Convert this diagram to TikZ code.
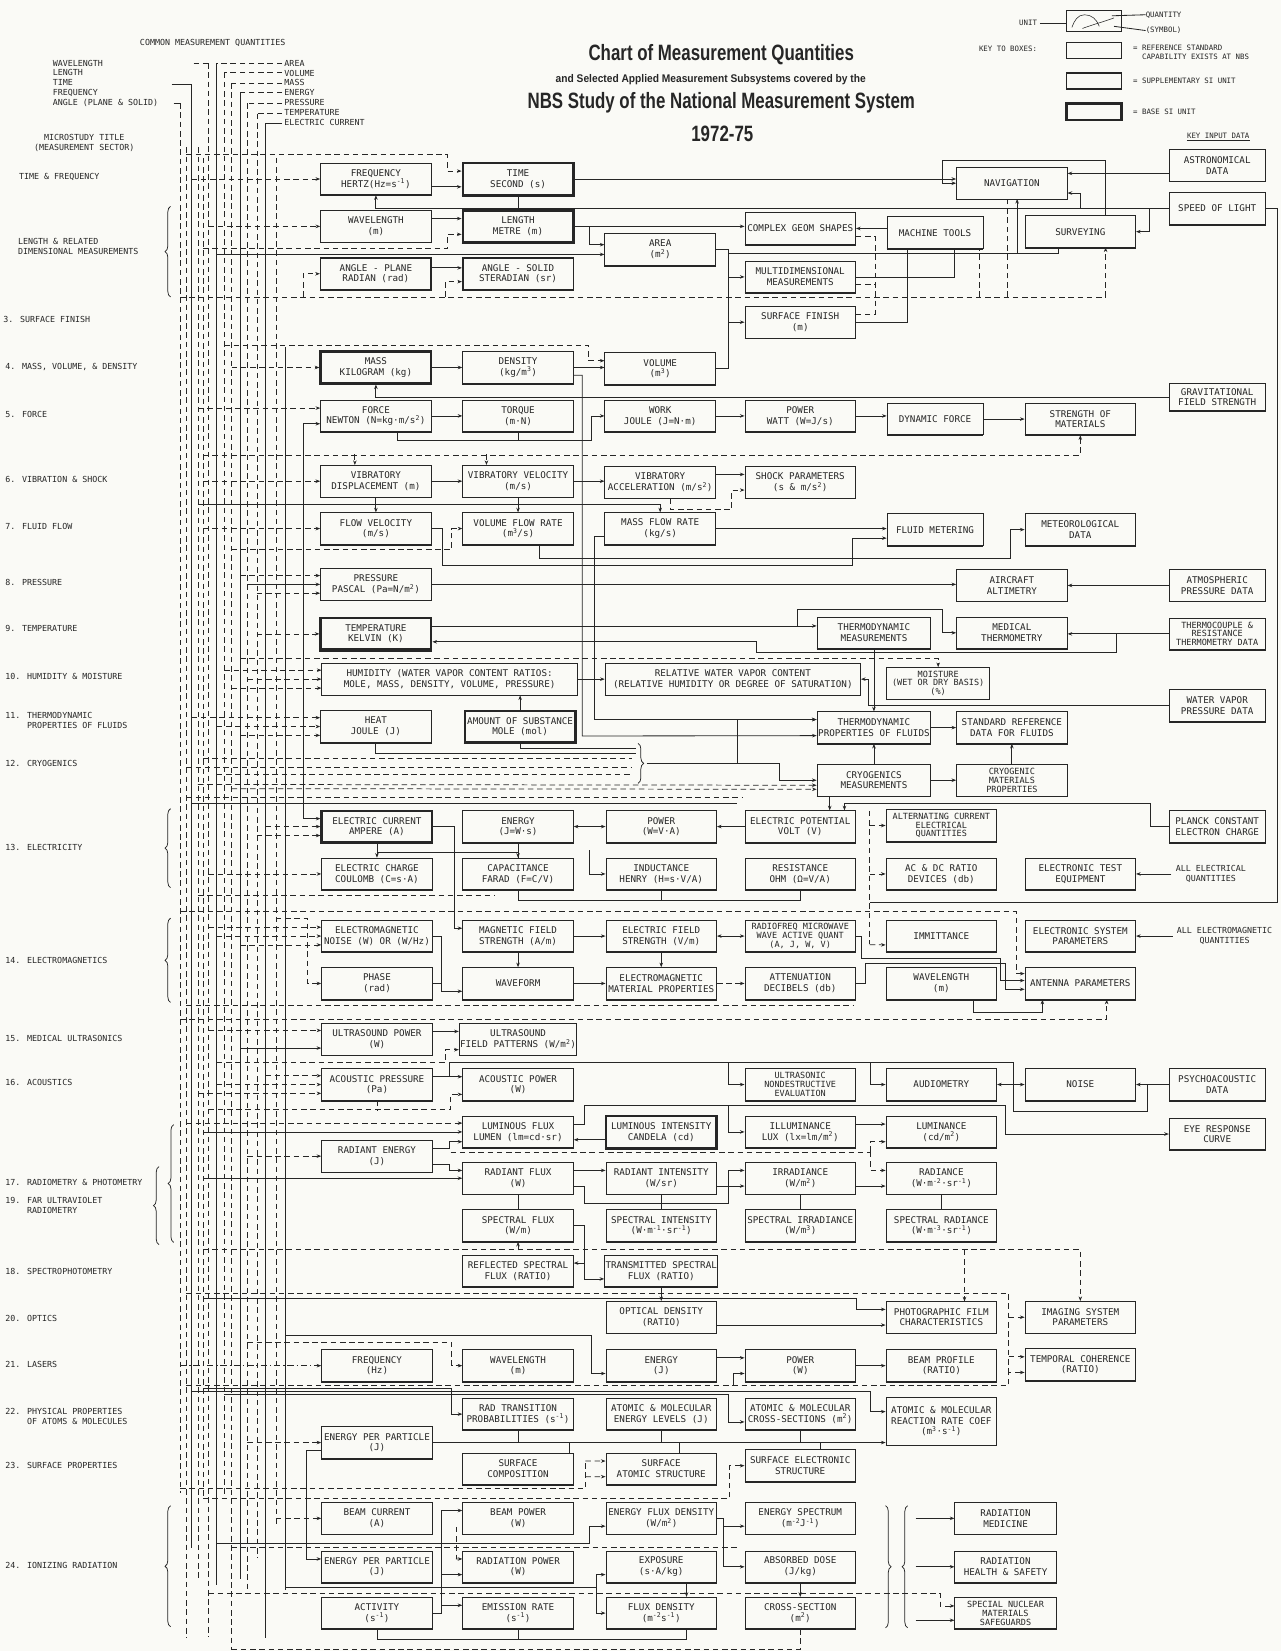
\documentclass[tikz,border=0pt]{standalone}
\usepackage{fontspec}
\usepackage{graphicx}
\usepackage{xcolor}
\definecolor{paper}{HTML}{FAFAF6}
\definecolor{ink}{HTML}{262626}
\newfontfamily\chartfont{DejaVu Sans Mono}
\newfontfamily\headfont{Liberation Sans}
\usepackage{tikz}
\usetikzlibrary{positioning,calc,arrows.meta,decorations.pathreplacing}

\begin{document}
\begin{tikzpicture}[
  x=0.04cm, y=-0.04cm,
  qty/.style={rectangle,draw=ink,fill=paper,line width=0.9pt,
    minimum width=4.2cm,minimum height=1.2cm,inner sep=1pt,
    align=center,text=ink,font=\chartfont\fontsize{10}{11.5}\selectfont},
  sibase/.style={qty,line width=2.6pt},
  supp/.style={qty,line width=1.7pt},
  keydata/.style={qty,minimum width=3.64cm},
  wide/.style={qty,minimum width=9.7cm},
  three/.style={font=\chartfont\fontsize{9.2}{9.6}\selectfont},
  sector/.style={anchor=west,align=left,inner sep=0pt,text=ink,
    font=\chartfont\fontsize{9}{10.6}\selectfont},
  note/.style={align=center,inner sep=0pt,text=ink,
    font=\chartfont\fontsize{9}{10.6}\selectfont},
  keytext/.style={anchor=west,align=left,inner sep=0pt,text=ink,
    font=\chartfont\fontsize{8}{9.4}\selectfont},
  headline/.style={text=ink,inner sep=0pt,
    font=\headfont\bfseries\fontsize{24}{26}\selectfont},
  ln/.style={draw=ink,line width=0.9pt},
  dsh/.style={draw=ink,line width=0.8pt,dash pattern=on 6pt off 4pt},
  arr/.style={ln,-{Stealth[length=5pt,width=3.8pt]}},
  dsarr/.style={dsh,-{Stealth[length=5pt,width=3.8pt]}},
  dbl/.style={ln,{Stealth[length=5pt,width=3.8pt]}-{Stealth[length=5pt,width=3.8pt]}},
  brc/.style={draw=ink,line width=0.8pt,decorate,decoration={brace,amplitude=6pt}},
  shd/.style={draw=ink,line width=1.8pt}
]
\fill[paper] (0,0) rectangle (1217,1568);
\useasboundingbox (0,0) rectangle (1217,1568);

% bus positions
\coordinate (bA) at (171,0);
\coordinate (bB) at (177,0);
\coordinate (bC) at (182,0);
\coordinate (bD) at (188,0);
\coordinate (bE) at (193,0);
\coordinate (bF) at (198,0);
\coordinate (bG) at (206,0);
\coordinate (bH) at (213,0);
\coordinate (bI) at (220,0);
\coordinate (bJ) at (228,0);
\coordinate (bK) at (235,0);
\coordinate (bL) at (244,0);
\coordinate (bM) at (252,0);
\coordinate (bN) at (262,0);
\coordinate (bO) at (271,0);
\coordinate (bP) at (288,0);
\coordinate (avx) at (692,0);
\coordinate (kx) at (958,0);

% heading and key
\node[note] (cmq) at (202,41) {COMMON MEASUREMENT QUANTITIES};
\node[sector] (qleft) at (50,79) {WAVELENGTH\\LENGTH\\TIME\\FREQUENCY\\ANGLE (PLANE \& SOLID)};
\node[sector] (qright) at (270,88) {AREA\\VOLUME\\MASS\\ENERGY\\PRESSURE\\TEMPERATURE\\ELECTRIC CURRENT};
\node[note] (mstitle) at (80,136) {MICROSTUDY TITLE\\(MEASUREMENT SECTOR)};

\node[headline] (title) at (685,52) {\scalebox{0.76}[1]{Chart of Measurement Quantities}};
\node[headline,font=\headfont\bfseries\fontsize{12}{14}\selectfont] (subtitle) at (675,76)
  {\scalebox{0.92}[1]{and Selected Applied Measurement Subsystems covered by the}};
\node[headline] (study) at (685,98) {\scalebox{0.76}[1]{NBS Study of the National Measurement System}};
\node[headline] (years) at (686,127) {\scalebox{0.76}[1]{1972-75}};

\node[draw=ink,line width=0.9pt,minimum width=2.08cm,minimum height=0.8cm] (kunit) at (1039,20) {};
\draw[ln,line width=0.6pt] (1018,26) to[out=70,in=180] (1030,14) to[out=0,in=110] (1044,25);
\draw[ln,line width=0.6pt] (1028,27) to[out=20,in=200] (1058,17);
\node[keytext,anchor=east] (kunitlbl) at (985,22) {UNIT};
\draw[ln] ([xshift=3pt]kunitlbl.east) -- (kunit.west |- kunitlbl.east);
\node[keytext] (kqty) at (1088,14) {QUANTITY};
\draw[ln] (1056,15) -- (kqty.west);
\node[keytext] (ksym) at (1088,29) {(SYMBOL)};
\draw[ln] (1058,25) -- (ksym.west);
\node[keytext,anchor=east] (kkey) at (985,46) {KEY TO BOXES:};
\node[draw=ink,line width=0.9pt,minimum width=2.08cm,minimum height=0.62cm] (kref) at (1039,48) {};
\node[draw=ink,line width=1.7pt,minimum width=2.08cm,minimum height=0.62cm] (ksup) at (1039,77) {};
\node[draw=ink,line width=2.6pt,minimum width=2.08cm,minimum height=0.62cm] (kbase) at (1039,106) {};
\node[keytext] (kreft) at (1076,50) {= REFERENCE STANDARD\\\phantom{= }CAPABILITY EXISTS AT NBS};
\node[keytext] (ksupt) at (1076,77) {= SUPPLEMENTARY SI UNIT};
\node[keytext] (kbaset) at (1076,106) {= BASE SI UNIT};
\node[note,font=\chartfont\fontsize{8}{9.4}\selectfont] (kinput) at (1157,129) {KEY INPUT DATA};
\draw[ln] ([yshift=-2pt]kinput.south west) -- ([yshift=-2pt]kinput.south east);

% sector labels
\node[sector] (s1) at (18,168) {TIME \& FREQUENCY};
\node[sector] (s2) at (17,234) {LENGTH \& RELATED\\DIMENSIONAL MEASUREMENTS};
\node[sector] (s3) at (3,303) {3. SURFACE FINISH};
\node[sector] (s4) at (5,349) {4. MASS, VOLUME, \& DENSITY};
\node[sector] (s5) at (5,394) {5. FORCE};
\node[sector] (s6) at (5,455) {6. VIBRATION \& SHOCK};
\node[sector] (s7) at (5,500) {7. FLUID FLOW};
\node[sector] (s8) at (5,553) {8. PRESSURE};
\node[sector] (s9) at (5,597) {9. TEMPERATURE};
\node[sector] (s10) at (5,642) {10. HUMIDITY \& MOISTURE};
\node[sector] (s11) at (5,684) {11. THERMODYNAMIC\\\phantom{11. }PROPERTIES OF FLUIDS};
\node[sector] (s12) at (5,725) {12. CRYOGENICS};
\node[sector] (s13) at (5,805) {13. ELECTRICITY};
\node[sector] (s14) at (5,912) {14. ELECTROMAGNETICS};
\node[sector] (s15) at (5,986) {15. MEDICAL ULTRASONICS};
\node[sector] (s16) at (5,1028) {16. ACOUSTICS};
\node[sector] (s17) at (5,1123) {17. RADIOMETRY \& PHOTOMETRY};
\node[sector] (s19) at (5,1145) {19. FAR ULTRAVIOLET\\\phantom{19. }RADIOMETRY};
\node[sector] (s18) at (5,1208) {18. SPECTROPHOTOMETRY};
\node[sector] (s20) at (5,1252) {20. OPTICS};
\node[sector] (s21) at (5,1296) {21. LASERS};
\node[sector] (s22) at (5,1345) {22. PHYSICAL PROPERTIES\\\phantom{22. }OF ATOMS \& MOLECULES};
\node[sector] (s23) at (5,1392) {23. SURFACE PROPERTIES};
\node[sector] (s24) at (5,1487) {24. IONIZING RADIATION};

\draw[brc] (162,282) -- (162,196);
\draw[brc] (162,843) -- (162,768);
\draw[brc] (162,952) -- (162,872);
\draw[brc] (165,1180) -- (165,1068);
\draw[brc] (151,1182) -- (151,1108);
\draw[brc] (162,1545) -- (162,1430);

% common quantity buses
\draw[ln] (163,80) -- (182,80);
\draw[dsh] (184,60) -- (198,60);
\draw[ln] (165,98) -- (171,98);
\draw[dsh] (268,60) -- (206,60);
\draw[dsh] (268,69) -- (213,69);
\draw[dsh] (268,79) -- (220,79);
\draw[dsh] (268,88) -- (228,88);
\draw[dsh] (268,98) -- (235,98);
\draw[dsh] (268,108) -- (244,108);
\draw[ln] (268,117) -- (252,117);
\foreach \bx/\by/\bz in {171/98/1418, 177/140/1555, 188/140/1500, 193/150/1424,
    198/60/1555, 213/69/1420, 220/79/1567, 235/98/1513, 244/108/1480, 262/150/1450}
  \draw[dsh] (\bx,\by) -- (\bx,\bz);
\foreach \bx/\by/\bz in {182/80/1470, 206/60/1505, 228/88/1500, 252/117/1556, 271/330/1510}
  \draw[ln] (\bx,\by) -- (\bx,\bz);

% quantity boxes
\node[qty] (freq) at (357,170) {FREQUENCY\\HERTZ(Hz=s\textsuperscript{-1})};
\node[sibase] (tim) at (492,170) {TIME\\SECOND (s)};
\node[qty] (nav) at (961,174) {NAVIGATION};
\node[keydata] (astro) at (1156,157) {ASTRONOMICAL\\DATA};
\node[keydata] (sol) at (1156,198) {SPEED OF LIGHT};
\node[qty] (wavl) at (357,215) {WAVELENGTH\\(m)};
\node[sibase] (len) at (492,215) {LENGTH\\METRE (m)};
\node[qty] (area) at (627,237) {AREA\\(m\textsuperscript{2})};
\node[qty] (cgs) at (760,217) {COMPLEX GEOM SHAPES};
\node[qty,minimum width=3.64cm] (mtool) at (888,221) {MACHINE TOOLS};
\node[qty] (surv) at (1026,220) {SURVEYING};
\node[supp] (angp) at (357,260) {ANGLE - PLANE\\RADIAN (rad)};
\node[supp] (angs) at (492,260) {ANGLE - SOLID\\STERADIAN (sr)};
\node[qty] (mdim) at (760,263) {MULTIDIMENSIONAL\\MEASUREMENTS};
\node[qty] (sfin) at (760,306) {SURFACE FINISH\\(m)};
\node[sibase] (mass) at (357,349) {MASS\\KILOGRAM (kg)};
\node[qty] (dens) at (492,349) {DENSITY\\(kg/m\textsuperscript{3})};
\node[qty] (vol) at (627,350) {VOLUME\\(m\textsuperscript{3})};
\node[keydata,minimum height=1.05cm] (grav) at (1156,377) {GRAVITATIONAL\\FIELD STRENGTH};
\node[qty] (force) at (357,395) {FORCE\\NEWTON (N=kg·m/s\textsuperscript{2})};
\node[qty] (torq) at (492,395) {TORQUE\\(m·N)};
\node[qty] (work) at (627,395) {WORK\\JOULE (J=N·m)};
\node[qty] (pow) at (760,395) {POWER\\WATT (W=J/s)};
\node[qty,minimum width=3.64cm] (dynf) at (888,398) {DYNAMIC FORCE};
\node[qty] (strm) at (1026,398) {STRENGTH OF\\MATERIALS};
\node[qty] (vdisp) at (357,457) {VIBRATORY\\DISPLACEMENT (m)};
\node[qty] (vvel) at (492,457) {VIBRATORY VELOCITY\\(m/s)};
\node[qty] (vacc) at (627,458) {VIBRATORY\\ACCELERATION (m/s\textsuperscript{2})};
\node[qty] (shock) at (760,458) {SHOCK PARAMETERS\\(s \& m/s\textsuperscript{2})};
\node[qty] (fvel) at (357,502) {FLOW VELOCITY\\(m/s)};
\node[qty] (vfr) at (492,502) {VOLUME FLOW RATE\\(m\textsuperscript{3}/s)};
\node[qty] (mfr) at (627,502) {MASS FLOW RATE\\(kg/s)};
\node[qty,minimum width=3.64cm] (fmet) at (888,503) {FLUID METERING};
\node[qty] (meteo) at (1026,503) {METEOROLOGICAL\\DATA};
\node[qty] (pres) at (357,555) {PRESSURE\\PASCAL (Pa=N/m\textsuperscript{2})};
\node[qty] (alt) at (961,556) {AIRCRAFT\\ALTIMETRY};
\node[keydata] (atm) at (1156,556) {ATMOSPHERIC\\PRESSURE DATA};
\node[sibase] (temp) at (357,602) {TEMPERATURE\\KELVIN (K)};
\node[qty,minimum width=4.32cm] (tmeas) at (830,601) {THERMODYNAMIC\\MEASUREMENTS};
\node[qty] (medt) at (961,601) {MEDICAL\\THERMOMETRY};
\node[keydata,three] (tcdata) at (1156,602) {THERMOCOUPLE \&\\RESISTANCE\\THERMOMETRY DATA};
\node[wide] (hum) at (427,645) {HUMIDITY (WATER VAPOR CONTENT RATIOS:\\MOLE, MASS, DENSITY, VOLUME, PRESSURE)};
\node[wide] (rwvc) at (696,645) {RELATIVE WATER VAPOR CONTENT\\(RELATIVE HUMIDITY OR DEGREE OF SATURATION)};
\node[qty,three,minimum width=3.92cm] (moist) at (891,649) {MOISTURE\\(WET OR DRY BASIS)\\(\%)};
\node[keydata] (wvp) at (1156,670) {WATER VAPOR\\PRESSURE DATA};
\node[qty] (heat) at (357,690) {HEAT\\JOULE (J)};
\node[sibase] (amt) at (494,690) {AMOUNT OF SUBSTANCE\\MOLE (mol)};
\node[qty,minimum width=4.32cm] (tpf) at (830,691) {THERMODYNAMIC\\PROPERTIES OF FLUIDS};
\node[qty] (srd) at (961,691) {STANDARD REFERENCE\\DATA FOR FLUIDS};
\node[qty,minimum width=4.32cm] (cryo) at (830,741) {CRYOGENICS\\MEASUREMENTS};
\node[qty,three] (cmat) at (961,741) {CRYOGENIC\\MATERIALS\\PROPERTIES};
\node[sibase] (ecur) at (358,785) {ELECTRIC CURRENT\\AMPERE (A)};
\node[qty] (ener) at (492,785) {ENERGY\\(J=W·s)};
\node[qty] (epow) at (628,785) {POWER\\(W=V·A)};
\node[qty] (volt) at (760,785) {ELECTRIC POTENTIAL\\VOLT (V)};
\node[qty,three] (acq) at (894,784) {ALTERNATING CURRENT\\ELECTRICAL\\QUANTITIES};
\node[keydata] (planck) at (1156,785) {PLANCK CONSTANT\\ELECTRON CHARGE};
\node[qty] (echg) at (358,830) {ELECTRIC CHARGE\\COULOMB (C=s·A)};
\node[qty] (cap) at (492,830) {CAPACITANCE\\FARAD (F=C/V)};
\node[qty] (ind) at (628,830) {INDUCTANCE\\HENRY (H=s·V/A)};
\node[qty] (res) at (760,830) {RESISTANCE\\OHM (Ω=V/A)};
\node[qty] (acdc) at (894,830) {AC \& DC RATIO\\DEVICES (db)};
\node[qty] (ete) at (1026,830) {ELECTRONIC TEST\\EQUIPMENT};
\node[note] (allel) at (1150,830) {ALL ELECTRICAL\\QUANTITIES};
\node[qty] (emn) at (358,889) {ELECTROMAGNETIC\\NOISE (W) OR (W/Hz)};
\node[qty] (mag) at (492,889) {MAGNETIC FIELD\\STRENGTH (A/m)};
\node[qty] (efld) at (628,889) {ELECTRIC FIELD\\STRENGTH (V/m)};
\node[qty,three] (rfq) at (760,889) {RADIOFREQ MICROWAVE\\WAVE ACTIVE QUANT\\(A, J, W, V)};
\node[qty] (imm) at (894,889) {IMMITTANCE};
\node[qty] (esp) at (1026,889) {ELECTRONIC SYSTEM\\PARAMETERS};
\node[note] (allem) at (1163,889) {ALL ELECTROMAGNETIC\\QUANTITIES};
\node[qty] (phase) at (358,934) {PHASE\\(rad)};
\node[qty] (wform) at (492,934) {WAVEFORM};
\node[qty] (emat) at (628,934) {ELECTROMAGNETIC\\MATERIAL PROPERTIES};
\node[qty] (atten) at (760,934) {ATTENUATION\\DECIBELS (db)};
\node[qty] (ewl) at (894,934) {WAVELENGTH\\(m)};
\node[qty] (ant) at (1026,934) {ANTENNA PARAMETERS};
\node[qty] (usp) at (358,987) {ULTRASOUND POWER\\(W)};
\node[qty] (usf) at (492,987) {ULTRASOUND\\FIELD PATTERNS (W/m\textsuperscript{2})};
\node[qty] (acp) at (358,1030) {ACOUSTIC PRESSURE\\(Pa)};
\node[qty] (acpw) at (492,1030) {ACOUSTIC POWER\\(W)};
\node[qty,three] (nde) at (760,1030) {ULTRASONIC\\NONDESTRUCTIVE\\EVALUATION};
\node[qty] (audio) at (894,1030) {AUDIOMETRY};
\node[qty] (noise) at (1026,1030) {NOISE};
\node[keydata] (psy) at (1156,1030) {PSYCHOACOUSTIC\\DATA};
\node[qty] (lflux) at (492,1075) {LUMINOUS FLUX\\LUMEN (lm=cd·sr)};
\node[sibase] (lint) at (628,1075) {LUMINOUS INTENSITY\\CANDELA (cd)};
\node[qty] (illum) at (760,1075) {ILLUMINANCE\\LUX (lx=lm/m\textsuperscript{2})};
\node[qty] (lumi) at (894,1075) {LUMINANCE\\(cd/m\textsuperscript{2})};
\node[keydata] (eye) at (1156,1077) {EYE RESPONSE\\CURVE};
\node[qty] (renr) at (358,1098) {RADIANT ENERGY\\(J)};
\node[qty] (rflux) at (492,1119) {RADIANT FLUX\\(W)};
\node[qty] (rint) at (628,1119) {RADIANT INTENSITY\\(W/sr)};
\node[qty] (irr) at (760,1119) {IRRADIANCE\\(W/m\textsuperscript{2})};
\node[qty] (rad) at (894,1119) {RADIANCE\\(W·m\textsuperscript{-2}·sr\textsuperscript{-1})};
\node[qty] (sflux) at (492,1164) {SPECTRAL FLUX\\(W/m)};
\node[qty] (sint) at (628,1164) {SPECTRAL INTENSITY\\(W·m\textsuperscript{-1}·sr\textsuperscript{-1})};
\node[qty] (sirr) at (760,1164) {SPECTRAL IRRADIANCE\\(W/m\textsuperscript{3})};
\node[qty] (srad) at (894,1164) {SPECTRAL RADIANCE\\(W·m\textsuperscript{-3}·sr\textsuperscript{-1})};
\node[qty] (refl) at (492,1207) {REFLECTED SPECTRAL\\FLUX (RATIO)};
\node[qty] (trans) at (628,1207) {TRANSMITTED SPECTRAL\\FLUX (RATIO)};
\node[qty] (odens) at (628,1251) {OPTICAL DENSITY\\(RATIO)};
\node[qty] (photo) at (894,1251) {PHOTOGRAPHIC FILM\\CHARACTERISTICS};
\node[qty] (imag) at (1026,1251) {IMAGING SYSTEM\\PARAMETERS};
\node[qty] (lfreq) at (358,1297) {FREQUENCY\\(Hz)};
\node[qty] (lwl) at (492,1297) {WAVELENGTH\\(m)};
\node[qty] (lenr) at (628,1297) {ENERGY\\(J)};
\node[qty] (lpow) at (760,1297) {POWER\\(W)};
\node[qty] (beam) at (894,1297) {BEAM PROFILE\\(RATIO)};
\node[qty] (tcoh) at (1026,1296) {TEMPORAL COHERENCE\\(RATIO)};
\node[qty] (rtp) at (492,1343) {RAD TRANSITION\\PROBABILITIES (s\textsuperscript{-1})};
\node[qty] (ael) at (628,1343) {ATOMIC \& MOLECULAR\\ENERGY LEVELS (J)};
\node[qty] (axs) at (760,1343) {ATOMIC \& MOLECULAR\\CROSS-SECTIONS (m\textsuperscript{2})};
\node[qty,minimum height=1.8cm] (rrc) at (894,1350) {ATOMIC \& MOLECULAR\\REACTION RATE COEF\\(m\textsuperscript{3}·s\textsuperscript{-1})};
\node[qty] (epp) at (358,1370) {ENERGY PER PARTICLE\\(J)};
\node[qty] (scomp) at (492,1395) {SURFACE\\COMPOSITION};
\node[qty] (satom) at (628,1395) {SURFACE\\ATOMIC STRUCTURE};
\node[qty] (selec) at (760,1392) {SURFACE ELECTRONIC\\STRUCTURE};
\node[qty] (bcur) at (358,1442) {BEAM CURRENT\\(A)};
\node[qty] (bpow) at (492,1442) {BEAM POWER\\(W)};
\node[qty] (efd) at (628,1442) {ENERGY FLUX DENSITY\\(W/m\textsuperscript{2})};
\node[qty] (espec) at (760,1442) {ENERGY SPECTRUM\\(m\textsuperscript{-2}J\textsuperscript{-1})};
\node[qty] (epp2) at (358,1488) {ENERGY PER PARTICLE\\(J)};
\node[qty] (rpow) at (492,1488) {RADIATION POWER\\(W)};
\node[qty] (expo) at (628,1488) {EXPOSURE\\(s·A/kg)};
\node[qty] (adose) at (760,1488) {ABSORBED DOSE\\(J/kg)};
\node[qty] (act) at (358,1532) {ACTIVITY\\(s\textsuperscript{-1})};
\node[qty] (emr) at (492,1532) {EMISSION RATE\\(s\textsuperscript{-1})};
\node[qty] (fden) at (628,1532) {FLUX DENSITY\\(m\textsuperscript{-2}s\textsuperscript{-1})};
\node[qty] (xsec) at (760,1532) {CROSS-SECTION\\(m\textsuperscript{2})};
\node[qty,minimum width=3.85cm] (rmed) at (955,1442) {RADIATION\\MEDICINE};
\node[qty,minimum width=3.85cm] (rhs) at (955,1488) {RADIATION\\HEALTH \& SAFETY};
\node[qty,three,minimum width=3.85cm] (snm) at (955,1532) {SPECIAL NUCLEAR\\MATERIALS\\SAFEGUARDS};

% heavier lower edge of the boxes
\foreach \b in {freq,tim,nav,astro,sol,wavl,len,area,cgs,mtool,surv,angp,angs,mdim,sfin,
    mass,dens,vol,grav,force,torq,work,pow,dynf,strm,vdisp,vvel,vacc,shock,fvel,vfr,mfr,
    fmet,meteo,pres,alt,atm,temp,tmeas,medt,tcdata,hum,rwvc,moist,wvp,heat,amt,tpf,srd,
    cryo,cmat,ecur,ener,epow,volt,acq,planck,echg,cap,ind,res,acdc,ete,emn,mag,efld,rfq,
    imm,esp,phase,wform,emat,atten,ewl,ant,usp,usf,acp,acpw,nde,audio,noise,psy,lflux,
    lint,illum,lumi,eye,renr,rflux,rint,irr,rad,sflux,sint,sirr,srad,refl,trans,odens,
    photo,imag,lfreq,lwl,lenr,lpow,beam,tcoh,rtp,ael,axs,rrc,epp,scomp,satom,selec,bcur,
    bpow,efd,espec,epp2,rpow,expo,adose,act,emr,fden,xsec,rmed,rhs,snm}
  \draw[shd] (\b.south west) -- (\b.south east);

% time, length, angle
\draw[dsarr] (bC |- freq.west) -- (freq.west);
\draw[dsarr] (bB) ++(0,147) -- ++(248,0) |- (tim.172);
\draw[arr] (freq.352) -- (tim.west |- freq.352);
\draw[arr] (sol.west) -| (freq.south);
\draw[ln] (tim.south) -- (tim.south |- sol.west);
\draw[arr] (tim.east) -- (nav.west |- tim.east);
\draw[arr] (astro.west |- nav.10) -- (nav.10);
\draw[arr] ([xshift=0.96cm]surv.north) |- (895,152) |- (nav.west);
\draw[arr] ([xshift=-0.72cm]sol.west) |- (surv.east);
\draw[arr] ([xshift=-3.36cm]sol.west) |- (nav.350);
\draw[ln] (sol.east) -- ++(11,0) |- (826,857);
\draw[dsarr] (bF |- wavl.west) -- (wavl.west);
\draw[arr] (wavl.8) -- (len.west |- wavl.8);
\draw[dsarr] (bE) ++(0,236) -- ++(232,0) |- (len.188);
\draw[arr] (bG |- area.185) -- (area.185);
\draw[arr] (len.east) -- (cgs.west |- len.east);
\draw[arr] (len.east) ++(14,0) |- (area.175);
\draw[ln] (vol.east) -| (avx |- area.east) -- (area.east);
\draw[arr] (avx |- mdim.west) -- (mdim.west);
\draw[arr] (avx |- sfin.west) -- (sfin.west);
\draw[arr] (mtool.west |- cgs.east) -- (cgs.east);
\draw[dsh] (cgs.352) -- ++(18,0) |- (sfin.8);
\draw[dsh] (mdim.352) -- ++(18,0);
\draw[ln] (692,241) -- (1005,241) -- (1005,235);
\draw[ln] (mdim.east) -| (906,236);
\draw[ln] (sfin.east) -| (862,236);
\draw[arr] (966,241) -- (966,189);
\draw[dsh] (bA) ++(0,282) -- (1050,282);
\draw[dsarr] (1050,282) -- (1050,235);
\draw[dsh] (930,282) -- (930,236);
\draw[dsh] (957,282) -- (957,189);
\draw[dsarr] (288,282) |- (angp.west);
\draw[dsarr] (423,282) |- (angs.188);
\draw[arr] (angp.6) -- (angs.west |- angp.6);

% mass, force
\draw[dsarr] (bH) ++(0,328) -- ++(346,0) |- (vol.172);
\draw[dsarr] (bI |- mass.west) -- (mass.west);
\draw[arr] (mass.east) -- (dens.west);
\draw[arr] (dens.east) -- (vol.west |- dens.east);
\draw[arr] (dens.352) -| (553,699) -- (tpf.188);
\draw[arr] (grav.west) -| (mass.south);
\draw[dsarr] (bD |- force.172) -- (force.172);
\draw[dbl] (force.188) -- (bP |- force.188) |- (ecur.172);
\draw[arr] (force.east) -- (torq.west);
\draw[arr] ([xshift=0.8cm]force.south) |- (562,418) |- (work.west);
\draw[ln] (torq.south) -- ++(0,8);
\draw[arr] (work.east) -- (pow.west);
\draw[arr] (pow.east) -- (dynf.west |- pow.east);
\draw[arr] (dynf.east) -- (strm.west);
\draw[dsarr] (bE) ++(0,432) -| (strm.south);

% vibration, fluid flow
\draw[dsarr] (bE |- vdisp.west) -- (vdisp.west);
\draw[arr] (vdisp.east) -- (vvel.west);
\draw[arr] (vvel.east) -- (vacc.west |- vvel.east);
\draw[arr] (vacc.8) -- (shock.west |- vacc.8);
\draw[dsarr] ([xshift=0.4cm]vacc.south) |- (695,484) |- (shock.188);
\draw[arr] (bD) ++(0,479) -| (mfr.north);
\draw[arr] (vvel.south) -- (vfr.north);
\draw[arr] (vdisp.south) -- (fvel.north);
\draw[dsarr] (vdisp.north) ++(-20,-10) -- ++(0,10);
\draw[dsarr] (vvel.north) ++(-30,-10) -- ++(0,10);
\draw[dsarr] (bE |- fvel.west) -- (fvel.west);
\draw[arr] (fvel.east) -- ++(10,0) |- (810,537) |- (fmet.190);
\draw[arr] (mfr.east) -- (fmet.west |- mfr.east);
\draw[arr] ([xshift=0.8cm]vfr.south) |- (960,530) |- (meteo.west);
\draw[dsarr] (bI) ++(0,522) -- ++(209,0) |- (vfr.west);
\draw[arr] (mfr.188) -- ++(-10,0) |- (tpf.172);

% pressure, temperature
\draw[dsarr] (bJ |- pres.171) -- (pres.171);
\draw[arr] (bK |- pres.west) -- (pres.west);
\draw[dsarr] (bL |- pres.189) -- (pres.189);
\draw[arr] (pres.east) -- (alt.west |- pres.east);
\draw[arr] (atm.west) -- (alt.east |- atm.west);
\draw[dsarr] (bL |- temp.west) -- (temp.west);
\draw[arr] (temp.8) -- (tmeas.west |- temp.8);
\draw[arr] (757,594.6) |- (895,579) |- (medt.west);
\draw[arr] (tcdata.west) -- ++(-50,0) |- (718,620) |- (temp.352);
\draw[arr] (tcdata.west) -- (medt.east |- tcdata.west);
\draw[arr] (tmeas.south) -- (tpf.north);

% humidity, thermodynamics, cryogenics
\draw[dsarr] (bJ) ++(0,625) -| (moist.north);
\draw[dsarr] (bH |- hum.176) -- (hum.176);
\draw[dsarr] (bK |- hum.west) -- (hum.west);
\draw[dsarr] (bI |- hum.184) -- (hum.184);
\draw[arr] (hum.east) -- (rwvc.west);
\draw[arr] (amt.north) -- (amt.north |- hum.south);
\draw[arr] (wvp.west) -- ++(-285,0) |- (rwvc.east);
\draw[dsarr] (bC |- heat.171) -- (heat.171);
\draw[dsarr] (bG |- heat.west) -- (heat.west);
\draw[dsarr] (bJ |- heat.189) -- (heat.189);
\draw[ln] (heat.south) |- (604,716);
\draw[ln] (amt.south) |- (604,711);
\draw[dsh] (bE) ++(0,720) -- (600,720);
\draw[dsh] (bB) ++(0,729) -- (600,729);
\draw[dsh] (bG) ++(0,735) -- (600,735);
\draw[brc] (606,706) -- (606,744);
\draw[arr] (614,725) -- (740,725) |- (cryo.west);
\draw[arr] (700,725) |- (tpf.172);
\draw[dsarr] (bD) ++(0,745) -- (cryo.185);
\draw[dsarr] (bI) ++(0,749) -- (cryo.189);
\draw[arr] (tpf.east) -- (srd.west);
\draw[arr] (cryo.east) -- (cmat.west);
\draw[arr] (cmat.north) -- (srd.south);
\draw[arr] (cryo.north) -- (tpf.south);
\draw[dsh] (bB) ++(0,757) -- (705,757);
\draw[ln] (bC) ++(0,763) -- (700,763);

% electricity
\draw[dsarr] (bM |- ecur.west) -- (ecur.west);
\draw[dsarr] (bL |- ecur.189) -- (ecur.189);
\draw[arr] (ecur.east) -- ++(20,0) |- (mag.172);
\draw[arr] (ecur.south) -- (echg.north);
\draw[ln] ([yshift=-0.32cm]ecur.south) -| (cap.north);
\draw[arr] (ener.south) -- (cap.north);
\draw[dbl] (ener.east) -- (epow.west);
\draw[arr] (volt.west) -- (epow.east);
\draw[arr] ([xshift=1.12cm]cryo.south -| volt.north) -- ([xshift=1.12cm]volt.north);
\draw[arr] (planck.west) -| (1093,763) -| ([xshift=1.68cm]volt.north);
\draw[dsh] (826,770) -- (826,897);
\draw[dsarr] (826,784) -- (acq.west);
\draw[dsarr] (826,830) -- (acdc.west);
\draw[arr] ([xshift=-0.16cm]allel.west) -- (ete.east);
\draw[ln] (cap.south) -- ++(0,10) -| (res.south);
\draw[ln] (ind.south) -- ++(0,10);
\draw[arr] (cap.north) ++(68,-7) |- (ind.west);
\draw[dsarr] (bF |- echg.west) -- (echg.west);
\draw[dsh] (bD) ++(0,850) -- (470,850);
\draw[dsarr] (bA) ++(0,866) -- (965,866) |- (ant.170);

% electromagnetics
\draw[dsarr] (bF |- emn.171) -- (emn.171);
\draw[dsarr] (bG |- emn.west) -- (emn.west);
\draw[dsarr] (bJ |- emn.189) -- (emn.189);
\draw[dsarr] (bN) ++(0,872) -- ++(30,0) |- (phase.west);
\draw[arr] (emn.east) -- ++(8,0) |- (wform.188);
\draw[ln] (phase.east) -- ++(8,0);
\draw[arr] (mag.east) -- (efld.west);
\draw[dbl] (efld.east) -- (rfq.west);
\draw[dsarr] (826,897.3) -- (imm.189);
\draw[arr] (rfq.east) -- (818,889) |- (950,910) |- (ant.177);
\draw[arr] (atten.east) -- (822,934) |- (955,915) |- (ant.186);
\draw[arr] ([xshift=-0.16cm]allem.west) -- (esp.east);
\draw[arr] ([xshift=1.2cm]ewl.south) -- ++(0,12) -| ([xshift=-1.44cm]ant.south);
\draw[dsarr] (bA) ++(0,968) -| ([xshift=1cm]ant.south);
\draw[dsarr] (emat.east) -- (atten.west);
\draw[arr] (wform.east) -- (emat.west);
\draw[arr] (mag.south) -- (wform.north);
\draw[arr] (efld.south) -- (emat.north);
\draw[dsh] (bB) ++(0,955) -- (810,955);

% ultrasonics, acoustics
\draw[dsarr] (bF |- usp.171) -- (usp.171);
\draw[arr] (bJ |- usp.189) -- (usp.189);
\draw[arr] (usp.8) -- (usf.west |- usp.8);
\draw[dsarr] (bG) ++(0,1009) -- ++(217,0) |- (usf.190);
\draw[dsarr] (bM |- acp.171) -- (acp.171);
\draw[dsarr] (bG |- acp.west) -- (acp.west);
\draw[dsarr] (bD |- acp.189) -- (acp.189);
\draw[arr] (acp.8) -- (acpw.west |- acp.8);
\draw[ln] (acp.8) ++(16,0) |- (962,1009);
\draw[arr] (692,1009) |- (nde.west);
\draw[arr] (827,1009) |- (audio.west);
\draw[arr] (962,1009) |- (noise.west);
\draw[arr] (psy.west) -- (noise.east);
\draw[arr] ([xshift=-0.8cm]psy.west) |- (962,1056) |- (audio.east);
\draw[dsarr] (bF) ++(0,1054) -- ++(230,0) |- (acpw.190);
\draw[dsh] (acp.south) -- ++(0,9);

% radiometry and photometry
\draw[dsarr] (bB |- lflux.171) -- (lflux.171);
\draw[arr] (bE |- lflux.west) -- (lflux.west);
\draw[dsarr] (bK |- renr.west) -- (renr.west);
\draw[arr] (renr.8) -- ++(16,0) |- (lflux.190);
\draw[arr] (renr.352) -- ++(16,0) |- (rflux.172);
\draw[arr] (bE |- rflux.west) -- (rflux.west);
\draw[arr] (lint.west |- lflux.352) -- (lflux.352);
\draw[ln] (lflux.8) -- ++(10,0) |- (955,1050);
\draw[arr] (955,1050) |- (eye.west);
\draw[arr] (692,1050) |- (illum.west);
\draw[arr] (illum.8) -- (lumi.west |- illum.8);
\draw[dsh] (428,1094) -- (827,1094);
\draw[dsarr] (827,1094) |- (lumi.190);
\draw[dsarr] (827,1094) |- (rad.172);
\draw[arr] (rflux.8) -- (rint.west |- rflux.8);
\draw[arr] (rflux.352) -- ++(10,0) |- (692,1143) |- (irr.172);
\draw[arr] (rint.352) -- (irr.west |- rint.352);
\draw[arr] (irr.352) -- (rad.west |- irr.352);
\draw[ln] (rflux.south) -- (sflux.north);
\draw[ln] (rint.south) -- (sint.north);
\draw[ln] (irr.south) -- (sirr.north);
\draw[ln] (rad.south) -- (srad.north);
\draw[arr] (sflux.east) -- ++(10,0) |- (refl.8);
\draw[arr] (sflux.east) ++(10,0) |- (trans.188);
\draw[arr] (trans.south) -- (odens.north);
\draw[dsarr] (bE) ++(0,1187) -| (imag.north);
\draw[dsarr] (916,1187) -- (916,1236);
\draw[arr] (sflux.south) ++(0,8) -- (sflux.south);

% optics, lasers
\draw[dsh] (bB) ++(0,1228) -| (kx |- tcoh.188);
\draw[dsarr] (kx |- imag.west) -- (imag.west);
\draw[dsarr] (kx |- tcoh.172) -- (tcoh.172);
\draw[arr] (bE) ++(0,1233) -- ++(620,0) |- (photo.172);
\draw[arr] (odens.352) -- (photo.west |- odens.352);
\draw[dsarr,dash pattern=on 7pt off 3pt on 1.5pt off 3pt] (bA |- lfreq.west) -- (lfreq.west);
\draw[dsarr] (bK) ++(0,1275) -- ++(194,0) |- (lwl.west);
\draw[arr] (bO) ++(0,1268) -- ++(291,0) |- (lenr.188);
\draw[arr] (lenr.8) -- (lpow.west |- lenr.8);
\draw[arr] (lpow.east) -- (beam.west);
\draw[dsarr] (bB) ++(0,1316) -| (kx |- tcoh.188) -- (tcoh.188);
\draw[arr] (697,1316) |- (lpow.188);

% atoms, molecules, surfaces
\draw[arr] (bC) ++(0,1321) -- ++(645,0) |- (rrc.170);
\draw[arr] (bE) ++(0,1319) -- ++(236,0) |- (rtp.west);
\draw[arr] (bH) ++(0,1324) -- ++(479,0) |- (axs.188);
\draw[dsarr] (bK |- epp.west) -- (epp.west);
\draw[arr] (epp.east) -- (rrc.west |- epp.east);
\draw[ln] (rtp.south) -- (rtp.south |- epp.east);
\draw[ln] (ael.south) -- (ael.south |- epp.east);
\draw[ln] (axs.south) -- (axs.south |- epp.east);
\draw[ln] (541,1370) -- (541,1380);
\draw[ln] (645,1370) -- (645,1380);
\draw[ln] (779,1370) -- (779,1377);
\draw[arr] (epp.188) -- ++(-14,0) |- (epp2.172);
\draw[dsh] (bA) ++(0,1414) -| (556,1388);
\draw[dsarr] (556,1387.6) -- (satom.172);
\draw[dsarr] (556,1402.4) -- (satom.188);
\draw[dsarr] (bE) ++(0,1423) -- ++(500,0) |- (selec.west);

% ionizing radiation
\draw[dsarr] (bN |- bcur.west) -- (bcur.west);
\draw[arr] (act.east) -- ++(8,0) |- (bpow.172);
\draw[arr] (act.east) ++(8,0) |- (rpow.188);
\draw[arr] (act.east) ++(8,0) |- (emr.172);
\draw[dsh] (433,1450) -- (433,1481);
\draw[dsarr] (433,1480.6) -- (rpow.172);
\draw[arr] (bG) ++(0,1466) -- ++(354,0) |- (efd.188);
\draw[dsh] (bI) ++(0,1470) -- (700,1470);
\draw[arr] (bO) ++(0,1508) -- ++(295,0) |- (fden.west);
\draw[arr] (566,1508) |- (expo.188);
\draw[arr] (efd.east) -- ++(6,0) |- (adose.west);
\draw[arr] (efd.east) ++(6,0) |- (espec.188);
\draw[arr] ([xshift=0.96cm]expo.south) -- ([xshift=0.96cm]fden.north);
\draw[arr] (adose.south) -- (xsec.north);
\draw[ln] (act.south) -- ++(0,10) -| ([xshift=0.96cm]fden.south);
\draw[ln] (emr.south) -- ++(0,10);
\draw[dsh] (bI) ++(0,1566) -| (xsec.south);
\draw[dsarr] (bF) ++(0,1513) -- ++(695,0) |- (snm.172);
\draw[brc] (841,1430) -- (841,1546);
\draw[brc] (862,1546) -- (862,1430);
\draw[arr] (rmed.west) ++(-37,0) -- (rmed.west);
\draw[arr] (rhs.west) ++(-37,0) -- (rhs.west);
\draw[arr] (snm.188) ++(-37,0) -- (snm.188);
\end{tikzpicture}
\end{document}
